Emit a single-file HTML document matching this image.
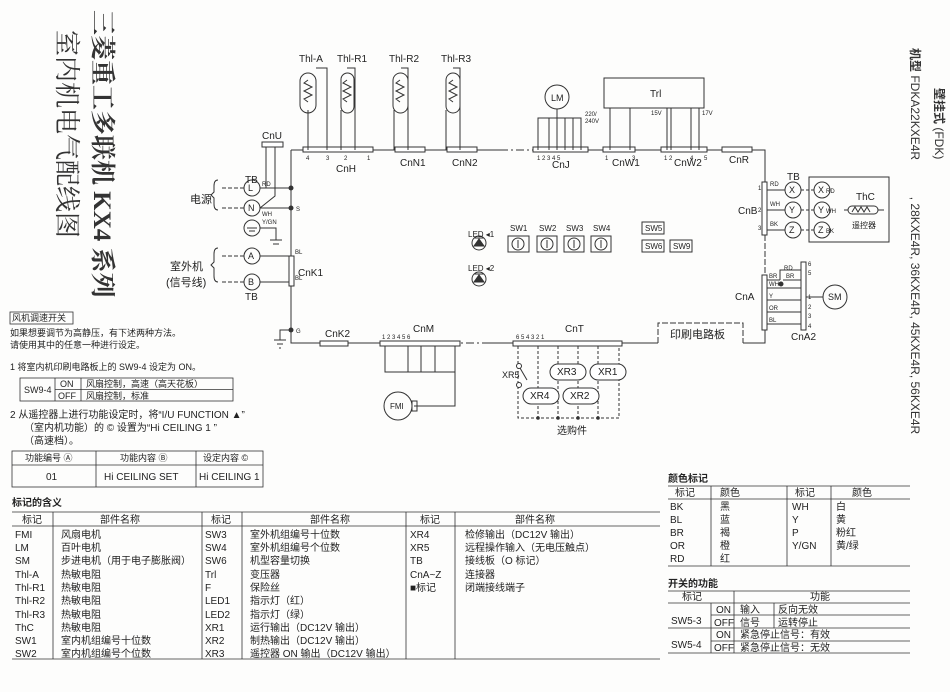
<!DOCTYPE html>
<html><head><meta charset="utf-8"><style>
body{margin:0;background:#fff;}
#w{position:relative;width:950px;height:692px;overflow:hidden;background:#fdfdfc;font-family:"Liberation Sans","Noto Sans CJK SC",sans-serif;color:#222;}
.v{position:absolute;writing-mode:vertical-rl;text-orientation:sideways;white-space:nowrap;}
svg text{font-family:"Liberation Sans","Noto Sans CJK SC",sans-serif;fill:#222;}
</style></head><body><div id="w">
<div class="v" style="left:86px;top:10px;font-size:25px;font-family:'Liberation Serif','Noto Serif CJK SC',serif;font-weight:bold;color:#333;">三菱重工多联机 KX4 系列</div>
<div class="v" style="left:50px;top:30px;font-size:26px;font-family:'Liberation Serif','Noto Serif CJK SC',serif;color:#333;">室内机电气配线图</div>
<div class="v" style="left:907px;top:48px;font-size:12px;color:#333"><b>机型</b>&nbsp;FDKA22KXE4R&nbsp;&nbsp;&nbsp;&nbsp;&nbsp;&nbsp;&nbsp;&nbsp;&nbsp;&nbsp;&nbsp;, 28KXE4R, 36KXE4R, 45KXE4R, 56KXE4R</div>
<div class="v" style="left:931px;top:88px;font-size:12px;color:#333"><b>壁挂式</b> (FDK)</div>

<svg width="950" height="692" style="position:absolute;left:0;top:0" font-size="9">
<g stroke="#333" fill="none" stroke-width="1">
<path d="M291 150 H303 M373 150 H395 M425 150 H447 M477 150 H500" />
<path d="M500 150 H533" stroke-dasharray="8,3,2,3"/>
<path d="M588 150 H603 M635 150 H661 M707 150 H722 M752 150 H765 V182"/>
<path d="M765 160 V182" stroke-dasharray="4,2"/>
<path d="M765 235 V275" stroke-dasharray="6,2"/>
<path d="M765 330 V343 H743 M658 343 H622 M513 343 H490"/>
<path d="M490 343 H460" stroke-dasharray="8,3,2,3"/>
<path d="M380 343 H348 M320 343 H291 V150"/>
<rect x="303" y="147" width="70" height="5" fill="#fff"/>
<rect x="395" y="147" width="30" height="5" fill="#fff"/>
<rect x="447" y="147" width="30" height="5" fill="#fff"/>
<rect x="533" y="147" width="55" height="5" fill="#fff"/>
<rect x="603" y="147" width="32" height="5" fill="#fff"/>
<rect x="661" y="147" width="46" height="5" fill="#fff"/>
<rect x="722" y="147" width="30" height="5" fill="#fff"/>
<rect x="262" y="142" width="21" height="5" fill="#fff"/>
<rect x="762" y="182" width="5" height="53" fill="#fff"/>
<rect x="762" y="275" width="5" height="55" fill="#fff"/>
<rect x="801" y="262" width="5" height="68" fill="#fff"/>
<rect x="289" y="256" width="5" height="30" fill="#fff"/>
<rect x="320" y="341" width="28" height="5" fill="#fff"/>
<rect x="380" y="341" width="80" height="5" fill="#fff"/>
<rect x="513" y="341" width="109" height="5" fill="#fff"/>
<path d="M658 343 V323 H743 V343" stroke-dasharray="6,2"/>
<g>
<path d="M308 150 V110 M327 150 V68 H316 M341 150 V110 M355 150 V68 H347 M394 150 V110 M408 150 V68 H401 M446 150 V110 M460 150 V68 H453"/>
<rect x="300" y="73" width="16" height="40" rx="8"/>
<rect x="341" y="73" width="13" height="40" rx="6.5"/>
<rect x="393" y="73" width="15" height="40" rx="7.5"/>
<rect x="446" y="73" width="14" height="40" rx="7"/>
<path d="M308 80 l-4 3 8 4 -8 4 8 4 -8 4 4 3 M347 80 l-4 3 8 4 -8 4 8 4 -8 4 4 3 M400 80 l-4 3 8 4 -8 4 8 4 -8 4 4 3 M453 80 l-4 3 8 4 -8 4 8 4 -8 4 4 3"/>
</g>
<circle cx="557" cy="97" r="12"/>
<path d="M557 109 V150 M538 150 V118 H581 V150 M549 118 V150 M565 118 V150 M573 118 V150"/>
<rect x="604" y="78" width="100" height="30"/>
<path d="M610 108 V150 M630 108 V150 M667 108 V150 M671 108 V150 M691 108 V150 M699 108 V150"/>
<circle cx="252" cy="188" r="8"/><circle cx="252" cy="208" r="8"/><circle cx="252" cy="228" r="8"/>
<circle cx="252" cy="256" r="8"/><circle cx="252" cy="282" r="8"/>
<path d="M260 188 H291 M260 208 H291 M260 228 H276 V240 M270 240 H282 M273 244 H279 M260 256 H289 M260 282 H289 M266 147 V188 M275 147 V196 L260 208"/>
<path d="M222 188 H244 M222 208 H244 M222 256 H244 M222 282 H244" stroke-dasharray="4,2"/>
<path d="M247 228 H257 M249 231 H255"/>
<path d="M218 180 q-4 0 -4 6 v6 l-3 3 3 3 v6 q0 6 4 6 M218 248 q-4 0 -4 6 v8 l-3 3 3 3 v8 q0 6 4 6"/>
<path d="M291 330 H280 V340 M274 340 H286 M277 344 H283 M279 348 H281"/>
<circle cx="479" cy="243" r="7"/><circle cx="479" cy="279" r="7"/>
<path d="M474 246 h10 l-5 -7z M474 238 h10 M474 282 h10 l-5 -7z M474 274 h10" fill="#333"/>
<rect x="508" y="236" width="21" height="16"/><rect x="537" y="236" width="20" height="16"/><rect x="564" y="236" width="20" height="16"/><rect x="591" y="236" width="20" height="16"/>
<circle cx="518" cy="244" r="6"/><circle cx="547" cy="244" r="6"/><circle cx="574" cy="244" r="6"/><circle cx="601" cy="244" r="6"/>
<path d="M518 248 V240 M547 248 V240 M574 248 V240 M601 248 V240"/>
<rect x="642" y="222" width="22" height="12"/><rect x="642" y="240" width="22" height="12"/><rect x="670" y="240" width="22" height="12"/>
<path d="M767 190 H785 M767 210 H785 M767 230 H785"/>
<circle cx="793" cy="190" r="8"/><circle cx="793" cy="210" r="8"/><circle cx="793" cy="230" r="8"/>
<path d="M801 190 H814 M801 210 H814 M801 230 H814" stroke-dasharray="3,2"/>
<rect x="809" y="177" width="80" height="65"/>
<circle cx="822" cy="190" r="8"/><circle cx="822" cy="210" r="8"/><circle cx="822" cy="230" r="8"/>
<path d="M844 210 H848 M878 210 H884"/><rect x="848" y="206" width="30" height="8" rx="4"/>
<path d="M852 212 l3 -5 3 5 3 -5 3 5 3 -5 3 5"/>
<path d="M767 288 H801 M767 300 H801 M767 312 H801 M767 324 H801 M767 280 H780 M780 280 V270 H801 M783 280 H801 M806 297 H823"/>
<circle cx="781" cy="284" r="2" fill="#333"/>
<circle cx="835" cy="297" r="12"/>
<path d="M385 346 V372 H455 V346 M408 346 V372 M421 346 V372 M435 346 V372 M455 346 V406 H414"/>
<circle cx="398" cy="406" r="14"/><rect x="412" y="401" width="5" height="10"/>
<path d="M518 346 V418 H619 V346 M538 346 V418 M558 346 V418 M578 346 V418 M598 346 V418" stroke-dasharray="3,2"/>
<rect x="550" y="364" width="36" height="16" rx="8" fill="#fff"/><rect x="590" y="364" width="36" height="16" rx="8" fill="#fff"/>
<rect x="523" y="388" width="36" height="16" rx="8" fill="#fff"/><rect x="563" y="388" width="36" height="16" rx="8" fill="#fff"/>
<circle cx="519" cy="366" r="2.5" fill="#fff"/><circle cx="519" cy="385" r="2.5" fill="#fff"/><path d="M520 368 L527 380"/>
</g>
<g fill="#333"><circle cx="291" cy="188" r="2.5"/><circle cx="291" cy="208" r="2.5"/><circle cx="291" cy="330" r="2.5"/>
<circle cx="538" cy="418" r="1.8"/><circle cx="558" cy="418" r="1.8"/><circle cx="578" cy="418" r="1.8"/><circle cx="598" cy="418" r="1.8"/></g>
<g font-size="10">
<text x="299" y="62">Thl-A</text><text x="337" y="62">Thl-R1</text><text x="389" y="62">Thl-R2</text><text x="441" y="62">Thl-R3</text>
<text x="262" y="139">CnU</text><text x="336" y="172">CnH</text><text x="400" y="166">CnN1</text><text x="452" y="166">CnN2</text>
<text x="552" y="168">CnJ</text><text x="612" y="166">CnW1</text><text x="674" y="166">CnW2</text><text x="729" y="163">CnR</text>
<text x="551" y="101" font-size="9">LM</text><text x="650" y="97">Trl</text>
<text x="245" y="183">TB</text><text x="248" y="191" font-size="9">L</text><text x="248" y="211" font-size="9">N</text>
<text x="248" y="259" font-size="9">A</text><text x="248" y="285" font-size="9">B</text><text x="245" y="300">TB</text>
<text x="190" y="203" font-size="11">电源</text>
<text x="170" y="270" font-size="11">室外机</text><text x="166" y="286" font-size="11">(信号线)</text>
<text x="298" y="276">CnK1</text><text x="325" y="337">CnK2</text><text x="413" y="332">CnM</text><text x="565" y="332">CnT</text>
<text x="468" y="237" font-size="8">LED ◂1</text><text x="468" y="271" font-size="8">LED ◂2</text>
<text x="510" y="231" font-size="8">SW1</text><text x="539" y="231" font-size="8">SW2</text><text x="566" y="231" font-size="8">SW3</text><text x="593" y="231" font-size="8">SW4</text>
<text x="645" y="231" font-size="8">SW5</text><text x="645" y="249" font-size="8">SW6</text><text x="673" y="249" font-size="8">SW9</text>
<text x="787" y="180">TB</text><text x="738" y="214">CnB</text><text x="735" y="300">CnA</text><text x="791" y="340">CnA2</text>
<text x="789" y="193" font-size="9">X</text><text x="789" y="213" font-size="9">Y</text><text x="789" y="233" font-size="9">Z</text>
<text x="818" y="193" font-size="9">X</text><text x="818" y="213" font-size="9">Y</text><text x="818" y="233" font-size="9">Z</text>
<text x="856" y="200">ThC</text><text x="852" y="228" font-size="8">遥控器</text>
<text x="828" y="300" font-size="9">SM</text><text x="390" y="409" font-size="8">FMI</text>
<text x="557" y="375">XR3</text><text x="598" y="375">XR1</text><text x="530" y="399">XR4</text><text x="570" y="399">XR2</text>
<text x="502" y="378" font-size="9">XR5</text><text x="557" y="434" font-size="10">选购件</text>
<text x="670" y="338" font-size="11">印刷电路板</text>
</g>
<g font-size="6">
<text x="770" y="186">RD</text><text x="770" y="206">WH</text><text x="770" y="226">BK</text>
<text x="758" y="190">1</text><text x="758" y="212">2</text><text x="758" y="230">3</text>
<text x="826" y="193">RD</text><text x="826" y="213">WH</text><text x="826" y="233">BK</text>
<text x="769" y="278">BR</text><text x="769" y="286">WH</text><text x="769" y="298">Y</text><text x="769" y="310">OR</text><text x="769" y="322">BL</text><text x="784" y="270">RD</text><text x="786" y="278">BR</text>
<text x="808" y="266">6</text><text x="808" y="275">5</text><text x="808" y="299">1</text><text x="808" y="309">2</text><text x="808" y="318">3</text><text x="808" y="328">4</text>
<text x="262" y="186">RD</text><text x="262" y="216">WH</text><text x="262" y="224">Y/GN</text><text x="296" y="211">S</text><text x="296" y="333">G</text>
<text x="295" y="254">BL</text><text x="295" y="280">BL</text>
<text x="306" y="160">4</text><text x="326" y="160">3</text><text x="344" y="160">2</text><text x="367" y="160">1</text>
<text x="537" y="160">1  2  3  4  5</text><text x="605" y="160">1</text><text x="632" y="160">3</text><text x="664" y="160">1 2</text><text x="690" y="160">4</text><text x="704" y="160">5</text>
<text x="585" y="116">220/</text><text x="585" y="123">240V</text><text x="651" y="115">15V</text><text x="702" y="115">17V</text>
<text x="382" y="339">1  2  3  4  5  6</text><text x="516" y="339">6   5   4   3   2   1</text>
</g>

<g font-size="9">
<rect x="10" y="312" width="63" height="12" fill="none" stroke="#333" stroke-width="0.8"/>
<text x="12" y="321">风机调速开关</text>
<text x="10" y="336">如果想要调节为高静压，有下述两种方法。</text>
<text x="10" y="348">请使用其中的任意一种进行设定。</text>
<text x="10" y="370">1  将室内机印刷电路板上的 SW9-4 设定为 ON。</text>
<g stroke="#333" fill="none" stroke-width="0.8"><rect x="20" y="378" width="213" height="23"/><path d="M55 378 V401 M81 378 V401 M55 389.5 H233"/></g>
<text x="24" y="393">SW9-4</text><text x="60" y="387">ON</text><text x="58" y="399">OFF</text><text x="86" y="387">风扇控制，高速（高天花板）</text><text x="86" y="399">风扇控制，标准</text>
<text x="10" y="418" font-size="10">2  从遥控器上进行功能设定时，将“I/U FUNCTION ▲”</text>
<text x="24" y="431" font-size="10">（室内机功能）的 © 设置为“Hi CEILING 1 ”</text>
<text x="24" y="444" font-size="10">（高速档）。</text>
<g stroke="#333" fill="none" stroke-width="0.8"><rect x="12" y="451" width="251" height="36"/><path d="M96 451 V487 M196 451 V487 M12 465 H263"/></g>
<text x="25" y="461">功能编号 Ⓐ</text><text x="120" y="461">功能内容 Ⓑ</text><text x="203" y="461">设定内容 ©</text>
<text x="46" y="480" font-size="10">01</text><text x="104" y="480" font-size="10">Hi CEILING SET</text><text x="199" y="480" font-size="10">Hi CEILING 1</text>
</g>

<g font-size="10">
<text x="12" y="506" font-weight="bold">标记的含义</text>
<g stroke="#333" fill="none" stroke-width="0.8"><path d="M12 512 H660 M12 526 H660 M12 659 H660 M53 512 V659 M202 512 V659 M242 512 V659 M406 512 V659 M455 512 V659"/></g>
<text x="22" y="523">标记</text><text x="100" y="523">部件名称</text><text x="211" y="523">标记</text><text x="310" y="523">部件名称</text><text x="420" y="523">标记</text><text x="515" y="523">部件名称</text>
<g>
<text x="15" y="538">FMI</text><text x="15" y="551">LM</text><text x="15" y="564">SM</text><text x="15" y="578">Thl-A</text><text x="15" y="591">Thl-R1</text><text x="15" y="604">Thl-R2</text><text x="15" y="618">Thl-R3</text><text x="15" y="631">ThC</text><text x="15" y="644">SW1</text><text x="15" y="657">SW2</text>
<text x="61" y="538">风扇电机</text><text x="61" y="551">百叶电机</text><text x="61" y="564">步进电机（用于电子膨胀阀）</text><text x="61" y="578">热敏电阻</text><text x="61" y="591">热敏电阻</text><text x="61" y="604">热敏电阻</text><text x="61" y="618">热敏电阻</text><text x="61" y="631">热敏电阻</text><text x="61" y="644">室内机组编号十位数</text><text x="61" y="657">室内机组编号个位数</text>
<text x="205" y="538">SW3</text><text x="205" y="551">SW4</text><text x="205" y="564">SW6</text><text x="205" y="578">Trl</text><text x="205" y="591">F</text><text x="205" y="604">LED1</text><text x="205" y="618">LED2</text><text x="205" y="631">XR1</text><text x="205" y="644">XR2</text><text x="205" y="657">XR3</text>
<text x="250" y="538">室外机组编号十位数</text><text x="250" y="551">室外机组编号个位数</text><text x="250" y="564">机型容量切换</text><text x="250" y="578">变压器</text><text x="250" y="591">保险丝</text><text x="250" y="604">指示灯（红）</text><text x="250" y="618">指示灯（绿）</text><text x="250" y="631">运行输出（DC12V 输出）</text><text x="250" y="644">制热输出（DC12V 输出）</text><text x="250" y="657">遥控器 ON 输出（DC12V 输出）</text>
<text x="410" y="538">XR4</text><text x="410" y="551">XR5</text><text x="410" y="564">TB</text><text x="410" y="578">CnA~Z</text><text x="410" y="591">■标记</text>
<text x="465" y="538">检修输出（DC12V 输出）</text><text x="465" y="551">远程操作输入（无电压触点）</text><text x="465" y="564">接线板（O 标记）</text><text x="465" y="578">连接器</text><text x="465" y="591">闭端接线端子</text>
</g>
</g>

<g font-size="10">
<text x="668" y="482" font-weight="bold">颜色标记</text>
<g stroke="#333" fill="none" stroke-width="0.8"><path d="M668 486 H910 M668 499 H910 M668 566 H910 M711 486 V566 M787 486 V566 M831 486 V566"/></g>
<text x="675" y="496">标记</text><text x="720" y="496">颜色</text><text x="795" y="496">标记</text><text x="852" y="496">颜色</text>
<text x="670" y="510">BK</text><text x="670" y="523">BL</text><text x="670" y="536">BR</text><text x="670" y="549">OR</text><text x="670" y="562">RD</text>
<text x="720" y="510">黑</text><text x="720" y="523">蓝</text><text x="720" y="536">褐</text><text x="720" y="549">橙</text><text x="720" y="562">红</text>
<text x="792" y="510">WH</text><text x="792" y="523">Y</text><text x="792" y="536">P</text><text x="792" y="549">Y/GN</text>
<text x="836" y="510">白</text><text x="836" y="523">黄</text><text x="836" y="536">粉红</text><text x="836" y="549">黄/绿</text>
<text x="668" y="587" font-weight="bold">开关的功能</text>
<g stroke="#333" fill="none" stroke-width="0.8"><path d="M668 591 H910 M668 603 H910 M711 615 H910 M668 628 H910 M711 641 H910 M668 653 H910 M711 603 V653 M734 591 V653 M774 603 V628"/></g>
<text x="682" y="600">标记</text><text x="810" y="600">功能</text>
<text x="671" y="624">SW5-3</text><text x="671" y="648">SW5-4</text>
<text x="716" y="613">ON</text><text x="714" y="626">OFF</text><text x="716" y="638">ON</text><text x="714" y="651">OFF</text>
<text x="740" y="613">输入</text><text x="740" y="626">信号</text><text x="778" y="613">反向无效</text><text x="778" y="626">运转停止</text>
<text x="740" y="638">紧急停止信号：有效</text><text x="740" y="651">紧急停止信号：无效</text>
</g>
</svg>
</div></body></html>
